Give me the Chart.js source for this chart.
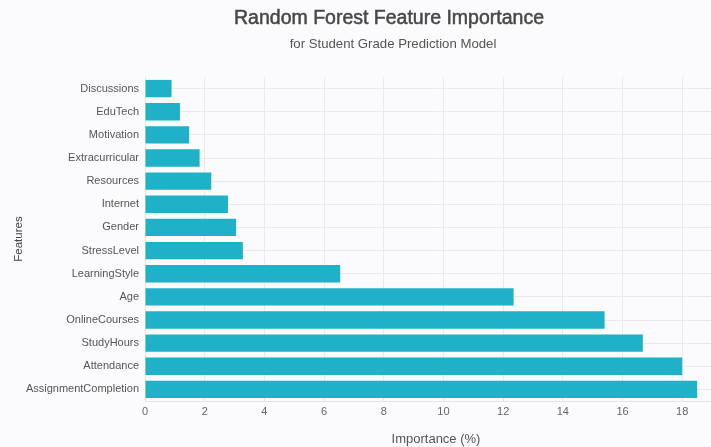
<!DOCTYPE html>
<html>
<head>
<meta charset="utf-8">
<script src="https://cdn.jsdelivr.net/npm/chart.js@4.4.1/dist/chart.umd.min.js"></script>
<style>
  html, body { margin: 0; padding: 0; background: #fbfbfd; overflow: hidden; }
  #wrap { width: 711px; height: 447px; overflow: hidden; }
</style>
</head>
<body>
<div id="wrap"><canvas id="myChart" width="727" height="447"></canvas></div>
<script>
// feature names, top to bottom as in the picture
const features = ['Discussions', 'EduTech', 'Motivation', 'Extracurricular', 'Resources', 'Internet', 'Gender',
  'StressLevel', 'LearningStyle', 'Age', 'OnlineCourses', 'StudyHours', 'Attendance', 'AssignmentCompletion'];
// importance in %
const importance = [0.89, 1.17, 1.48, 1.83, 2.22, 2.78, 3.05, 3.28, 6.54, 12.35, 15.4, 16.68, 18.0, 18.5];
const xTicks = [0, 2, 4, 6, 8, 10, 12, 14, 16, 18];

const titleText = 'Random Forest Feature Importance';
const subtitleText = 'for Student Grade Prediction Model';

const FONT = "'Liberation Sans', Arial, sans-serif";

// title + subtitle (original sits a bit left of centre, so drawn by hand)
const headerPlugin = {
  id: 'header',
  afterDraw(chart) {
    const ctx = chart.ctx;
    ctx.save();
    ctx.textAlign = 'center';
    ctx.textBaseline = 'middle';
    ctx.fillStyle = '#474747';
    ctx.strokeStyle = '#474747';
    ctx.lineWidth = 0.5;
    ctx.font = '19.5px ' + FONT;
    ctx.fillText(titleText, 389, 19);
    ctx.strokeText(titleText, 389, 19);
    ctx.fillStyle = '#555555';
    ctx.font = '13.2px ' + FONT;
    ctx.fillText(subtitleText, 393, 44);
    ctx.restore();
  }
};

window.addEventListener('load', () => {
  const ctx = document.getElementById('myChart');
  new Chart(ctx, {
    type: 'bar',
    data: {
      labels: features,
      datasets: [{
        label: 'Importance (%)',
        data: importance,
        backgroundColor: '#1fb1c8',
        borderWidth: 0,
        barPercentage: 0.75,
        categoryPercentage: 1.0
      }]
    },
    options: {
      indexAxis: 'y',
      responsive: false,
      animation: false,
      layout: { padding: { top: 77, right: 0, bottom: 0, left: 0 } },
      plugins: {
        legend: { display: false },
        tooltip: { enabled: false }
      },
      scales: {
        x: {
          min: 0,
          max: 19.5,
          afterBuildTicks: (scale) => { scale.ticks = xTicks.map(v => ({ value: v })); },
          afterFit: (scale) => { scale.height = 46; },
          grid: { color: '#e9e9ee', drawTicks: false },
          border: { color: '#e3e3e8' },
          ticks: { color: '#666', padding: 4, font: { family: FONT, size: 11 } },
          title: {
            display: true,
            text: 'Importance (%)',
            color: '#555',
            font: { family: FONT, size: 13 },
            padding: { top: 8, bottom: 0 }
          }
        },
        y: {
          afterFit: (scale) => { scale.width = 145; },
          grid: { color: '#e9e9ee', drawTicks: false, offset: false },
          border: { color: '#e3e3e8' },
          ticks: { color: '#555', padding: 6, font: { family: FONT, size: 11 } },
          title: {
            display: true,
            text: 'Features',
            color: '#444',
            font: { family: FONT, size: 11.5 },
            padding: { top: 12, bottom: 0 }
          }
        }
      }
    },
    plugins: [headerPlugin]
  });
});
</script>
</body>
</html>
